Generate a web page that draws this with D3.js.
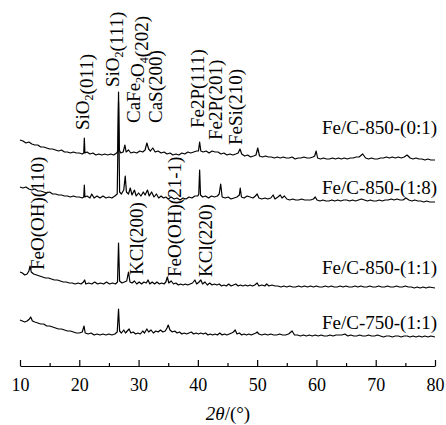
<!DOCTYPE html>
<html>
<head>
<meta charset="utf-8">
<script src="https://cdn.jsdelivr.net/npm/d3@7"></script>
<style>
  html, body { margin: 0; padding: 0; background: #fff; }
  svg { display: block; }
  text { font-family: "Liberation Serif", "Times New Roman", serif; fill: #000; }
</style>
</head>
<body>
<svg id="chart" width="446" height="425"></svg>
<script>
// XRD patterns of the Fe/C composites, [2θ (°), intensity above own baseline (a.u.)]
const fe850_01 = [
  [10,20],[10.5,19],[11,17],[11.5,18],[12,16],[12.5,15],[13,15],[13.5,13],[14,13],[14.5,12],
  [15,11],[15.5,11],[16,10],[16.5,9],[17,10],[17.5,8],[18,8],[18.5,7],[19,8],[19.5,7],
  [20,7],[20.5,6],[20.75,7],[20.85,22],[20.95,7],[21.3,8],[21.8,6],[22.3,7],[22.8,5],[23.3,6],
  [23.8,5],[24.3,6],[24.8,5],[25.3,6],[25.8,5],[26.3,7],[26.5,9],[26.62,68],[26.75,10],[27.0,7],
  [27.4,8],[27.7,15],[27.9,8],[28.3,10],[28.7,7],[29.2,8],[29.7,7],[30.2,9],[30.7,8],[31.1,10],
  [31.4,17],[31.7,11],[32.0,9],[32.4,12],[32.8,8],[33.3,9],[33.8,7],[34.3,8],[34.8,6],[35.3,7],
  [35.8,5],[36.3,6],[36.8,5],[37.3,7],[37.8,6],[38.3,8],[38.8,7],[39.3,8],[39.8,9],[40.1,9],
  [40.3,18],[40.5,9],[40.9,8],[41.4,9],[41.9,7],[42.4,9],[42.9,8],[43.4,8],[43.9,6],[44.4,7],
  [44.9,5],[45.4,6],[45.9,5],[46.4,6],[46.8,7],[47.1,11],[47.4,6],[47.9,4],[48.4,5],[48.9,3],
  [49.4,4],[49.8,5],[50.1,12],[50.4,4],[50.9,3],[51.4,4],[51.9,3],[52.4,3],[52.9,2],[53.4,3],
  [53.9,2],[54.4,3],[54.9,2],[55.4,2],[55.9,3],[56.4,1],[56.9,2],[57.4,2],[57.9,3],[58.4,2],
  [58.9,2],[59.4,3],[59.7,4],[59.95,9],[60.2,2],[60.7,1],[61.2,2],[61.7,1],[62.2,1],[62.7,2],
  [63.2,1],[63.7,2],[64.2,1],[64.7,2],[65.2,1],[65.7,2],[66.2,2],[66.7,3],[67.2,3],[67.8,6],
  [68.3,2],[68.8,1],[69.3,2],[69.8,1],[70.3,1],[70.8,2],[71.3,2],[71.8,3],[72.3,2],[72.8,3],
  [73.3,2],[73.8,3],[74.3,2],[74.8,3],[75.3,5],[75.8,2],[76.3,1],[76.8,2],[77.3,1],[77.8,1],
  [78.3,0],[78.8,1],[79.3,0],[80,0]
];
const fe850_18 = [
  [10,15],[10.5,14],[11,15],[11.5,13],[12,12],[12.5,13],[13,11],[13.5,11],[14,10],[14.5,9],
  [15,10],[15.5,8],[16,8],[16.5,7],[17,7],[17.5,6],[18,6],[18.5,5],[19,6],[19.5,5],
  [20,5],[20.5,4],[20.75,5],[20.85,17],[20.95,5],[21.3,6],[21.8,4],[22.1,8],[22.5,4],[23,6],
  [23.5,4],[24,6],[24.5,4],[25,5],[25.5,4],[26,6],[26.4,8],[26.62,100],[26.8,10],[27.1,8],
  [27.5,12],[27.75,26],[27.95,10],[28.3,8],[28.6,14],[28.9,7],[29.3,12],[29.6,6],[30.0,9],[30.4,6],
  [30.8,10],[31.1,7],[31.5,12],[31.8,6],[32.2,10],[32.6,5],[33.0,8],[33.4,4],[33.8,6],[34.2,4],
  [34.6,5],[35.0,3],[35.5,5],[36.0,3],[36.5,4],[37.0,2],[37.5,4],[38.0,3],[38.5,5],[39.0,4],
  [39.5,6],[40.0,6],[40.15,8],[40.3,32],[40.45,7],[40.8,5],[41.3,6],[41.8,4],[42.3,6],[42.8,5],
  [43.3,6],[43.6,8],[43.85,18],[44.1,5],[44.6,4],[45.1,5],[45.6,3],[46.1,4],[46.6,5],[47.0,7],
  [47.15,14],[47.35,5],[47.8,4],[48.3,6],[48.8,5],[49.3,4],[49.7,6],[50.0,8],[50.3,4],[50.8,3],
  [51.3,4],[51.8,3],[52.3,4],[52.7,7],[53.0,3],[53.5,5],[53.9,7],[54.2,4],[54.6,6],[55.0,3],
  [55.5,2],[56.0,3],[56.5,2],[57.0,2],[57.5,3],[58.0,2],[58.5,2],[59.0,2],[59.5,3],[59.8,5],
  [60.1,2],[60.6,1],[61.1,2],[61.6,1],[62.1,1],[62.6,2],[63.1,1],[63.6,2],[64.1,1],[64.6,2],
  [65.1,2],[65.6,1],[66.1,2],[66.6,1],[67.1,2],[67.6,3],[68.1,2],[68.6,1],[69.1,2],[69.6,1],
  [70.1,1],[70.6,2],[71.1,1],[71.6,2],[72.1,2],[72.6,3],[73.1,2],[73.6,3],[74.1,2],[74.6,2],
  [75.1,4],[75.6,2],[76.1,1],[76.6,2],[77.1,1],[77.6,1],[78.1,0],[78.6,1],[79.1,0],[80,0]
];
const fe850_11 = [
  [10,16],[10.4,15],[10.8,13],[11.2,14],[11.5,17],[11.7,22],[11.9,16],[12.3,14],[12.8,13],[13.3,12],
  [13.8,11],[14.3,10],[14.8,10],[15.3,9],[15.8,8],[16.3,8],[16.8,7],[17.3,6],[17.8,6],[18.3,5],
  [18.8,5],[19.3,4],[19.8,5],[20.3,4],[20.7,6],[20.9,8],[21.1,4],[21.6,5],[22.1,4],[22.6,6],
  [23.1,4],[23.6,5],[24.1,4],[24.6,6],[25.1,4],[25.6,5],[26.1,4],[26.45,6],[26.62,45],[26.8,7],
  [27.2,5],[27.6,6],[28.0,7],[28.3,16],[28.55,6],[28.9,5],[29.3,7],[29.7,4],[30.1,6],[30.5,4],
  [30.9,6],[31.3,5],[31.6,8],[31.9,4],[32.3,6],[32.7,4],[33.1,6],[33.5,4],[33.9,5],[34.3,4],
  [34.6,6],[34.85,11],[35.1,5],[35.5,7],[35.9,4],[36.3,5],[36.7,3],[37.1,4],[37.5,3],[37.9,4],
  [38.3,3],[38.7,4],[39.1,5],[39.5,8],[39.8,4],[40.2,6],[40.5,8],[40.8,4],[41.2,6],[41.6,3],
  [42.0,5],[42.4,3],[42.8,4],[43.2,3],[43.6,4],[44.0,2],[44.4,3],[44.8,2],[45.2,4],[45.6,2],
  [46.0,3],[46.4,4],[46.8,2],[47.2,3],[47.6,2],[48.0,3],[48.4,2],[48.8,3],[49.2,2],[49.6,3],
  [50.0,5],[50.3,2],[50.8,3],[51.3,2],[51.6,4],[52.0,2],[52.5,3],[53.0,2],[53.5,2],[54.0,1],
  [54.5,2],[55.0,1],[55.5,2],[56.0,1],[56.5,1],[57.0,2],[57.5,1],[58.0,2],[58.5,1],[59.0,2],
  [59.5,1],[60.0,2],[60.5,1],[61.0,1],[61.5,2],[62.0,1],[62.5,2],[63.0,1],[63.5,1],[64.0,2],
  [64.5,1],[65.0,2],[65.5,1],[66.0,1],[66.5,2],[67.0,1],[67.5,2],[68.0,1],[68.5,1],[69.0,2],
  [69.5,1],[70.0,1],[70.5,2],[71.0,1],[71.5,1],[72.0,2],[72.5,1],[73.0,1],[73.5,2],[74.0,1],
  [74.5,1],[75.0,2],[75.5,1],[76.0,1],[76.5,0],[77.0,1],[77.5,0],[78.0,1],[78.5,0],[79.0,1],[80,0]
];
const fe750_11 = [
  [10,17],[10.4,16],[10.8,15],[11.2,16],[11.6,18],[11.8,20],[12.1,16],[12.5,15],[13.0,14],[13.5,13],
  [14.0,13],[14.5,11],[15.0,11],[15.5,10],[16.0,9],[16.5,8],[17.0,8],[17.5,7],[18.0,6],[18.5,6],
  [19.0,5],[19.5,4],[20.0,4],[20.5,5],[20.8,11],[21.0,4],[21.5,3],[22.0,4],[22.5,2],[23.0,3],
  [23.5,2],[24.0,3],[24.5,2],[25.0,3],[25.5,2],[26.0,3],[26.4,5],[26.62,28],[26.8,6],[27.1,4],
  [27.5,7],[27.8,4],[28.1,6],[28.4,8],[28.7,4],[29.1,5],[29.5,3],[29.9,4],[30.3,3],[30.7,6],
  [31.0,4],[31.4,8],[31.7,5],[32.1,7],[32.5,4],[32.9,6],[33.3,5],[33.7,7],[34.1,5],[34.5,6],
  [34.8,9],[35.0,12],[35.3,7],[35.7,5],[36.1,6],[36.5,4],[36.9,5],[37.3,3],[37.7,4],[38.1,3],
  [38.5,4],[38.9,5],[39.3,3],[39.7,4],[40.1,3],[40.5,4],[40.9,3],[41.3,4],[41.7,2],[42.1,3],
  [42.5,2],[42.9,3],[43.3,2],[43.7,4],[44.1,2],[44.5,3],[44.9,2],[45.3,3],[45.7,4],[46.0,5],
  [46.3,7],[46.6,3],[47.0,4],[47.4,2],[47.8,3],[48.2,2],[48.6,3],[49.0,2],[49.4,3],[49.8,4],
  [50.0,5],[50.3,3],[50.8,2],[51.3,3],[51.8,2],[52.3,3],[52.8,2],[53.3,2],[53.8,3],[54.3,2],
  [54.8,2],[55.3,3],[55.9,6],[56.3,2],[56.8,2],[57.3,1],[57.8,2],[58.3,1],[58.8,2],[59.3,1],
  [59.8,2],[60.3,1],[60.8,2],[61.3,1],[61.8,1],[62.3,2],[62.8,1],[63.3,2],[63.8,2],[64.3,2],
  [64.8,3],[65.3,1],[65.8,2],[66.3,1],[66.8,1],[67.3,2],[67.8,1],[68.3,1],[68.8,2],[69.3,1],
  [69.8,1],[70.3,2],[70.8,1],[71.3,0],[71.8,1],[72.3,1],[72.8,0],[73.3,1],[73.8,1],[74.3,0],
  [74.8,1],[75.3,1],[75.8,0],[76.3,1],[76.8,0],[77.3,1],[77.8,0],[78.3,1],[78.8,0],[79.3,1],[80,0]
];

// stacking order, top to bottom
const seriesNames = ["Fe/C-850-(0:1)", "Fe/C-850-(1:8)", "Fe/C-850-(1:1)", "Fe/C-750-(1:1)"];
const seriesData = [fe850_01, fe850_18, fe850_11, fe750_11];
const seriesOffsets = [206, 164, 78, 29];
const seriesNameLevel = [232, 172, 92, 37];

// phase assignments: text ("_" marks a subscript digit), 2θ position, lower end of label
const phaseLabels = ["SiO_2(011)", "SiO_2(111)", "CaFe_2O_4(202)", "CaS(200)", "Fe2P(111)",
  "Fe2P(201)", "FeSi(210)", "FeO(OH)(110)", "KCl(200)", "FeO(OH)(21-1)", "KCl(220)"];
const phaseTheta = [20.5, 25.5, 29.2, 32.9, 39.85, 42.9, 46.4, 12.9, 29.7, 36.0, 41.2];
const phaseLevel = [236, 279, 243, 243, 238, 226, 221, 96, 91, 89, 89];

const majorTicks = [10, 20, 30, 40, 50, 60, 70, 80];
const minorTicks = [15, 25, 35, 45, 55, 65, 75];

const fontSize = 19;
const svg = d3.select("#chart");
const x = d3.scaleLinear().domain([10, 80]).range([20, 435]);
const y = d3.scaleLinear().domain([0, 300]).range([366, 66]);

// patterns
const line = d3.line().x(d => x(d[0])).y(d => y(d[1]));
seriesData.forEach((data, i) => {
  svg.append("path")
    .datum(data.map(d => [d[0], d[1] + seriesOffsets[i]]))
    .attr("d", line)
    .attr("fill", "none")
    .attr("stroke", "#000")
    .attr("stroke-width", 1.2)
    .attr("stroke-linejoin", "round");
});

// sample names
svg.selectAll("text.series-name")
  .data(seriesNames)
  .join("text")
  .attr("class", "series-name")
  .attr("x", x(80) + 2)
  .attr("y", (d, i) => y(seriesNameLevel[i]))
  .attr("text-anchor", "end")
  .attr("font-size", fontSize)
  .text(d => d);

// phase labels, rotated, reading bottom to top
phaseLabels.forEach((label, i) => {
  const t = svg.append("text")
    .attr("transform", `translate(${x(phaseTheta[i])},${y(phaseLevel[i])}) rotate(-90)`)
    .attr("dy", "0.35em")
    .attr("font-size", fontSize);
  label.split(/(_\d)/).filter(s => s.length).forEach(part => {
    if (part.startsWith("_")) {
      t.append("tspan").attr("font-size", 12).attr("dy", 4).text(part.slice(1));
      t.append("tspan").attr("dy", -4).text("");
    } else {
      t.append("tspan").text(part);
    }
  });
});

// 2θ axis with ticks pointing into the plot
const axis = svg.append("g").attr("transform", `translate(0,${y(0)})`);
axis.call(d3.axisBottom(x).tickValues(majorTicks).tickSize(-6).tickSizeOuter(0).tickPadding(12));
axis.append("g").call(d3.axisBottom(x).tickValues(minorTicks).tickSize(-3).tickFormat(""))
  .select(".domain").remove();
axis.selectAll("path, line").attr("stroke", "#000").attr("stroke-width", 1.2);
axis.selectAll("text")
  .attr("font-size", 18)
  .attr("font-family", "Liberation Serif, Times New Roman, serif")
  .attr("fill", "#000");

const title = svg.append("text")
  .attr("x", 228)
  .attr("y", 420)
  .attr("text-anchor", "middle")
  .attr("font-size", fontSize);
title.append("tspan").attr("font-style", "italic").text("2θ");
title.append("tspan").text("/(°)");
</script>
</body>
</html>
